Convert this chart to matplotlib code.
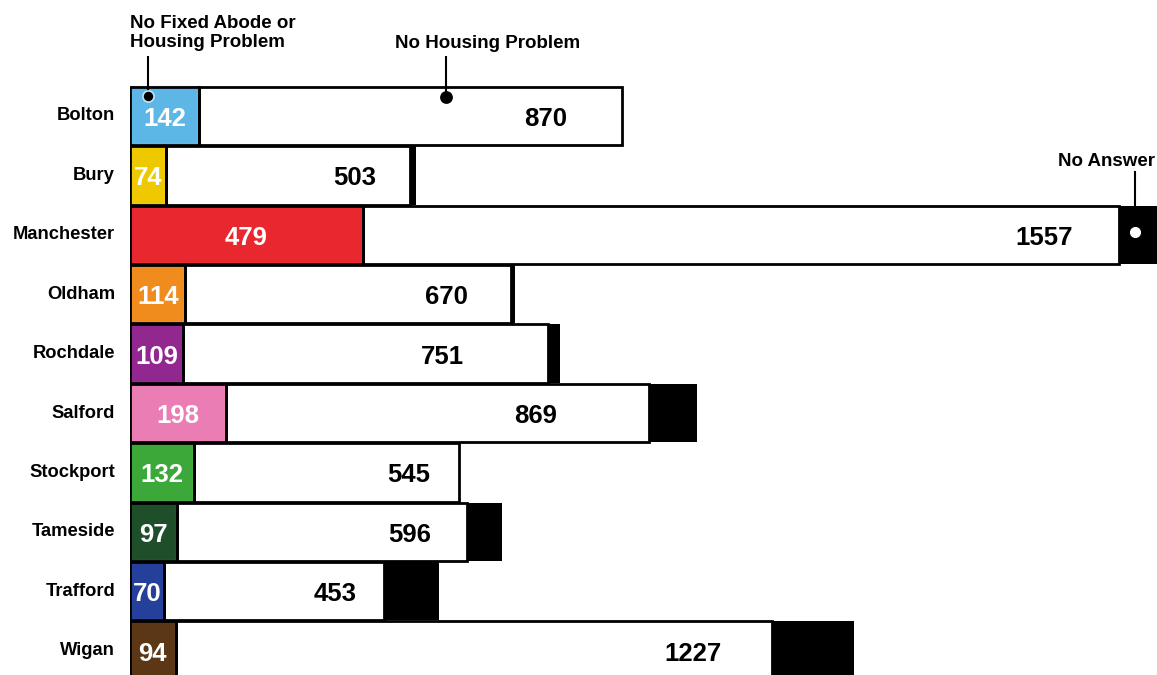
import matplotlib
matplotlib.use("Agg")
import matplotlib.pyplot as plt
import numpy as np

districts = ["Bolton", "Bury", "Manchester", "Oldham", "Rochdale", "Salford",
             "Stockport", "Tameside", "Trafford", "Wigan"]
housing_problem = [142, 74, 479, 114, 109, 198, 132, 97, 70, 94]
no_housing_problem = [870, 503, 1557, 670, 751, 869, 545, 596, 453, 1227]
no_answer = [0, 12, 80, 8, 25, 99, 0, 72, 113, 169]

colors = ["#5cb6e6", "#eec900", "#e8282e", "#f08c1e", "#92278f", "#ea7db3",
          "#3ca83a", "#1f4e2a", "#24409a", "#5b3716"]
edge_light = ["#9ad6f3", "#f8e25a", "#f05a5e", "#f7b25e", "#b45cb1", "#f4a9cf",
              "#74c870", "#3f7a4b", "#4f69bb", "#87603a"]
# right-edge offset (px) of the white-segment labels from the segment end
label_gap_px = [55, 34, 47, 43, 84, 92, 29, 36, 28, 50]

plt.rcParams['font.family'] = ['Liberation Sans', 'DejaVu Sans']

fig = plt.figure(figsize=(11.57, 6.75), dpi=100)
ax = fig.add_axes([130 / 1157, 0, 1 - 130 / 1157, 1])
px_per_unit = 0.486
ax.set_xlim(0, (1157 - 130) / px_per_unit)
pitch = 59.4
ax.set_ylim((675 - 116) / pitch, -116 / pitch)
ax.axis("off")

y = np.arange(len(districts))
h = 0.985
hp = np.array(housing_problem)
nhp = np.array(no_housing_problem)
na = np.array(no_answer)

ax.barh(y, hp, height=h, color=colors, edgecolor=edge_light, linewidth=1.6, zorder=2)
ax.barh(y, hp, height=h, color="none", edgecolor="black", linewidth=2.0, zorder=3)
ax.barh(y, nhp, left=hp, height=h, color="white", edgecolor="black", linewidth=2.0, zorder=2)
ax.barh(y, na, left=hp + nhp, height=h, color="black", edgecolor="black", linewidth=0, zorder=2)

for i, name in enumerate(districts):
    fig.text(115 / 1157, 1 - (116 + pitch * i) / 675, name, ha="right", va="center",
             fontsize=13.2, fontweight="bold", color="black")
    ax.text(hp[i] / 2, i + 0.05, str(hp[i]), ha="center", va="center", color="white",
            fontsize=18.5, fontweight="bold", zorder=5)
    xend = hp[i] + nhp[i] - label_gap_px[i] / px_per_unit
    ax.text(xend, i + 0.05, str(nhp[i]), ha="right", va="center", color="black",
            fontsize=18.5, fontweight="bold", zorder=5)

# annotations
fig.text(130 / 1157, 1 - 33 / 675, "No Fixed Abode or\nHousing Problem", ha="left",
         va="center", fontsize=13.5, fontweight="bold", linespacing=1.15)
fig.text(488 / 1157, 1 - 44 / 675, "No Housing Problem", ha="center", va="center",
         fontsize=13.5, fontweight="bold")
fig.text(1106 / 1157, 1 - 162 / 675, "No Answer", ha="center", va="center",
         fontsize=13.5, fontweight="bold")

def pointer(x, y_top, y_dot, dot_color, ring_color):
    ax.plot([x, x], [y_top, y_dot], color="black", lw=1.5, zorder=6, solid_capstyle="butt")
    ax.plot([x], [y_dot], marker="o", ms=8, color=dot_color, mec=ring_color, mew=1.2, zorder=7)

px2y = 1 / pitch
pointer(18 / px_per_unit, (56 - 116) * px2y, (96 - 116) * px2y, "black", "#bfe6fa")
pointer(316 / px_per_unit, (56 - 116) * px2y, (97 - 116) * px2y, "black", "black")
x_na = hp[2] + nhp[2] + 16 / px_per_unit
ax.plot([x_na, x_na], [(172 - 116) * px2y, 2 - 0.2], color="black", lw=1.5, zorder=6)
ax.plot([x_na], [2 - 0.05], marker="o", ms=7, color="white", mec="white", zorder=7)

fig.savefig("out.png", dpi=100, facecolor="white")
